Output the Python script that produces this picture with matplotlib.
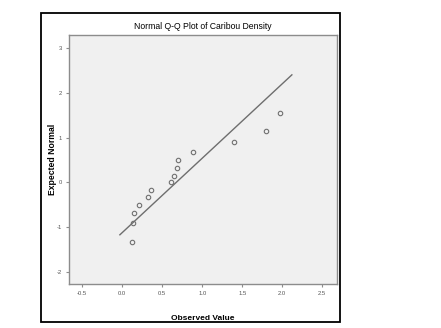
import matplotlib
matplotlib.use("Agg")
import matplotlib.pyplot as plt
from matplotlib.patches import Rectangle
import numpy as np

# Observed caribou density vs expected normal value
observed = [0.12, 0.13, 0.15, 0.21, 0.32, 0.36, 0.61, 0.65, 0.69, 0.70, 0.88, 1.40, 1.80, 1.97]
expected = [-1.34, -0.90, -0.69, -0.50, -0.32, -0.16, 0.00, 0.15, 0.32, 0.49, 0.67, 0.89, 1.15, 1.54]

# Reference line (normal with sample mean / sd)
line_mean = 0.675
line_sd = 0.602
line_x = [-0.03, 2.12]

x_ticks = [-0.5, 0.0, 0.5, 1.0, 1.5, 2.0, 2.5]
y_ticks = [-2, -1, 0, 1, 2, 3]

plt.rcParams["font.family"] = ["Liberation Sans", "DejaVu Sans"]
plt.rcParams["axes.unicode_minus"] = False

W, H = 441, 328
fig = plt.figure(figsize=(W / 100, H / 100), dpi=100)

# outer black frame
fig.patches.append(Rectangle((41 / W, 1 - 322 / H), (340 - 41) / W, (322 - 13) / H,
                             transform=fig.transFigure, fill=False,
                             edgecolor="black", linewidth=1.3))

ax = fig.add_axes([69 / W, 1 - 284 / H, (337 - 69) / W, (284 - 35) / H])
ax.set_facecolor("#f0f0f0")
for s in ax.spines.values():
    s.set_color("#8c8c8c")
    s.set_linewidth(1.0)

lx = np.array(line_x)
ax.plot(lx, (lx - line_mean) / line_sd, color="#6e6e6e", linewidth=1.0)
ax.plot(observed, expected, linestyle="none", marker="o", markersize=3.2,
        markerfacecolor="none", markeredgecolor="#707070", markeredgewidth=0.8)

ax.set_xlim(-0.666, 2.684)
ax.set_ylim(-2.27, 3.29)
ax.set_xticks(x_ticks)
ax.set_xticklabels([f"{v:.1f}" for v in x_ticks])
ax.set_yticks(y_ticks)
ax.tick_params(axis="both", length=2.5, width=0.8, color="#8c8c8c",
               labelsize=4.2, labelcolor="#555555", pad=2.5)

ax.set_title("Normal Q-Q Plot of Caribou Density", fontsize=6.2, pad=4)
ax.set_xlabel("Observed Value", fontsize=6, fontweight="bold")
ax.set_ylabel("Expected Normal", fontsize=6.2, fontweight="bold")
ax.xaxis.set_label_coords(0.5, -0.125)
ax.yaxis.set_label_coords(-0.045, 0.5)

fig.savefig("out.png", dpi=100)
